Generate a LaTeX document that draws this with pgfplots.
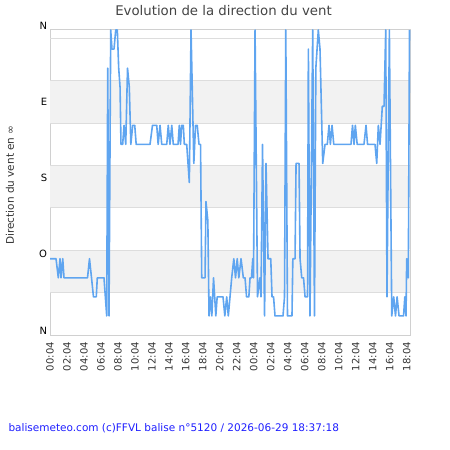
\documentclass[border=0pt]{standalone}
\usepackage{fontspec}
\setmainfont{DejaVu Sans}
\usepackage{pgfplots}
\pgfplotsset{compat=1.18}
\definecolor{linec}{RGB}{95,165,240}
\definecolor{band}{RGB}{242,242,242}
\definecolor{gridc}{RGB}{221,221,221}
\definecolor{framec}{RGB}{208,208,208}
\definecolor{foot}{RGB}{30,30,255}
\definecolor{titlec}{RGB}{68,68,68}
\definecolor{tickc}{RGB}{51,51,51}

\pgfplotstableread{
t dir
0 90
0.71 90
0.98 67.5
1.18 90
1.30 67.5
1.50 90
1.65 67.5
4.42 67.5
4.65 90
4.89 67.5
5.12 45
5.45 45
5.57 67.5
6.36 67.5
6.68 22.5
6.80 315
6.95 22.5
7.15 360
7.30 337.5
7.54 337.5
7.74 360
7.93 360
8.09 315
8.25 292.5
8.36 225
8.56 225
8.72 247.5
8.92 225
9.13 315
9.34 292.5
9.52 225
9.74 247.5
9.98 247.5
10.15 225
11.78 225
12.07 247.5
12.57 247.5
12.74 225
12.96 247.5
13.16 225
13.75 225
13.93 247.5
14.13 225
14.34 247.5
14.52 225
15.08 225
15.23 247.5
15.37 225
15.51 247.5
15.70 247.5
15.82 225
16.10 225
16.41 180
16.61 360
16.94 202.5
17.14 247.5
17.34 247.5
17.55 225
17.73 225
17.87 67.5
18.26 67.5
18.37 157.5
18.59 135
18.73 22.5
18.90 45
19.06 22.5
19.26 67.5
19.53 22.5
19.69 45
20.38 45
20.59 22.5
20.81 45
21.00 22.5
21.20 45
21.40 67.5
21.65 90
21.85 67.5
22.05 90
22.24 67.5
22.50 90
22.77 67.5
22.97 67.5
23.15 45
23.42 45
23.56 67.5
23.73 67.5
23.88 90
23.97 67.5
24.15 360
24.44 45
24.71 67.5
24.85 45
25.03 225
25.27 22.5
25.44 202.5
25.68 90
26.00 90
26.15 45
26.33 45
26.50 22.5
27.44 22.5
27.62 45
27.77 360
27.97 22.5
28.50 22.5
28.60 90
28.86 90
28.98 202.5
29.33 202.5
29.45 90
29.65 67.5
29.86 67.5
30.04 45
30.33 45
30.43 337.5
30.62 22.5
30.94 360
31.15 22.5
31.31 315
31.60 360
31.80 337.5
32.12 202.5
32.39 225
32.66 225
32.86 247.5
33.02 225
33.22 247.5
33.42 225
35.45 225
35.63 247.5
35.81 225
35.96 247.5
36.18 225
36.98 225
37.22 247.5
37.40 225
38.28 225
38.48 202.5
38.67 247.5
38.87 225
39.14 270
39.34 270
39.54 360
39.69 45
39.97 360
40.25 22.5
40.48 45
40.69 22.5
40.88 45
41.11 22.5
41.64 22.5
41.79 45
41.93 22.5
42.01 90
42.20 67.5
42.34 360
}\winddata

\begin{document}
\begin{tikzpicture}[x=1bp,y=1bp]
\path[use as bounding box] (0,0) rectangle (450,-450);
\node[anchor=base, text=titlec, font=\fontsize{13.3bp}{16bp}\selectfont] at (223.5,-15.7) {Evolution de la direction du vent};
\node[rotate=90, anchor=center, text=tickc, font=\fontsize{10.5bp}{12bp}\selectfont] at (10,-185) {Direction du vent en ∞};
\node[anchor=base west, text=foot, font=\fontsize{10.5bp}{12bp}\selectfont] at (5,-431.5) {balisemeteo.com (c)FFVL balise n°5120 / 2026-06-29 18:37:18};
\begin{axis}[
  at={(50bp,-335bp)}, anchor=south west,
  scale only axis, width=360bp, height=305bp,
  xmin=0, xmax=42.4, ymin=0, ymax=360,
  clip=false,
  axis line style={framec, line width=1bp},
  major tick length=0pt,
  xtick={0,2,...,42},
  xticklabels={00:04,02:04,04:04,06:04,08:04,10:04,12:04,14:04,16:04,18:04,20:04,22:04,00:04,02:04,04:04,06:04,08:04,10:04,12:04,14:04,16:04,18:04},
  xticklabel style={rotate=90, anchor=east, inner sep=0pt, text=tickc, font=\fontsize{10bp}{12bp}\selectfont},
  xticklabel shift=7bp,
  ytick={0,90,180,270,360},
  yticklabels={N,O,S,E,N},
  yticklabel style={anchor=base east, inner sep=0pt, yshift=0.8bp, text=black, font=\fontsize{10bp}{12bp}\selectfont},
  yticklabel shift=2.7bp,
]
\fill[band] (axis cs:0,50) rectangle (axis cs:42.4,100);
\fill[band] (axis cs:0,150) rectangle (axis cs:42.4,200);
\fill[band] (axis cs:0,250) rectangle (axis cs:42.4,300);
\foreach \g in {50,100,150,200,250,300,350}{
  \edef\tmp{\noexpand\draw[gridc, line width=1bp] (axis cs:0,\g) -- (axis cs:42.4,\g);}\tmp
}
\addplot[linec, line width=1.6bp, line join=round] table[x=t, y=dir] {\winddata};
\end{axis}
\end{tikzpicture}
\end{document}
